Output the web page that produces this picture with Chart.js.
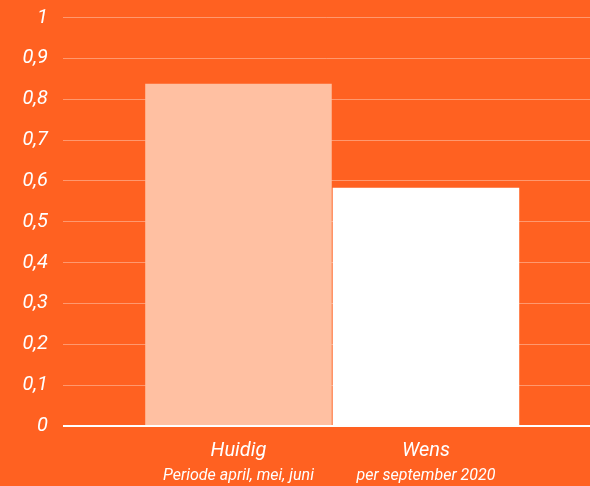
<!DOCTYPE html>
<html>
<head>
<meta charset="utf-8">
<script src="https://cdn.jsdelivr.net/npm/chart.js@4/dist/chart.umd.min.js"></script>
<style>
  html, body { margin: 0; padding: 0; background: #ff6121; }
  #wrap { width: 590px; height: 486px; }
</style>
</head>
<body>
<div id="wrap"><canvas id="bar-chart" width="590" height="486"></canvas></div>
<script>
const categories = ["Huidig", "Wens"];
const periods = ["Periode april, mei, juni", "per september 2020"];
const values = [0.838, 0.583];
const barColors = ["#ffc0a2", "#ffffff"];
const yTicks = [0, 0.1, 0.2, 0.3, 0.4, 0.5, 0.6, 0.7, 0.8, 0.9, 1];

const positions = categories.map((c, i) => i + 1);

function decimalComma(v) {
  return String(Math.round(v * 10) / 10).replace(".", ",");
}

// both bottom axes share the same range so the labels line up under the bars
const xRange = { min: 0.064, max: 2.875 };

new Chart(document.getElementById("bar-chart"), {
  type: "bar",
  data: {
    datasets: [
      {
        label: "waarde",
        data: positions.map((x, i) => ({ x: x, y: values[i] })),
        backgroundColor: barColors,
        borderWidth: 0,
        categoryPercentage: 1,
        barPercentage: 0.995
      }
    ]
  },
  options: {
    responsive: false,
    animation: false,
    layout: { padding: 0 },
    plugins: {
      legend: { display: false },
      tooltip: { enabled: false }
    },
    scales: {
      x: {
        type: "linear",
        position: "bottom",
        weight: 0,
        offset: false,
        min: xRange.min,
        max: xRange.max,
        afterBuildTicks: scale => {
          scale.ticks = positions.map(v => ({ value: v }));
        },
        afterFit: scale => {
          scale.height = 40;
        },
        grid: { display: false, drawTicks: false, offset: false },
        border: { display: false },
        ticks: {
          padding: 13,
          maxRotation: 0,
          color: "#ffffff",
          font: { family: "Roboto", size: 20, style: "italic" },
          callback: v => categories[v - 1]
        }
      },
      x2: {
        type: "linear",
        position: "bottom",
        weight: 1,
        offset: false,
        min: xRange.min,
        max: xRange.max,
        afterBuildTicks: scale => {
          scale.ticks = positions.map(v => ({ value: v }));
        },
        afterFit: scale => {
          scale.height = 20;
        },
        grid: { display: false, drawTicks: false, offset: false },
        border: { display: false },
        ticks: {
          padding: 0,
          maxRotation: 0,
          color: "#ffffff",
          font: { family: "Roboto", size: 16, style: "italic" },
          callback: v => periods[v - 1]
        }
      },
      y: {
        min: 0,
        max: 1,
        afterBuildTicks: scale => {
          scale.ticks = yTicks.map(v => ({ value: v }));
        },
        afterFit: scale => {
          scale.width = 63;
          // the tick padding would otherwise push the top line down
          scale.paddingTop = 17.5;
        },
        border: { display: false },
        grid: {
          drawTicks: false,
          color: ctx => (ctx.tick && ctx.tick.value === 0 ? "#ffffff" : "rgba(255,255,255,0.35)"),
          lineWidth: ctx => (ctx.tick && ctx.tick.value === 0 ? 2 : 1)
        },
        ticks: {
          padding: 15,
          color: "#ffffff",
          font: { family: "Roboto", size: 20, style: "italic" },
          callback: v => decimalComma(v)
        }
      }
    }
  }
});
</script>
</body>
</html>
